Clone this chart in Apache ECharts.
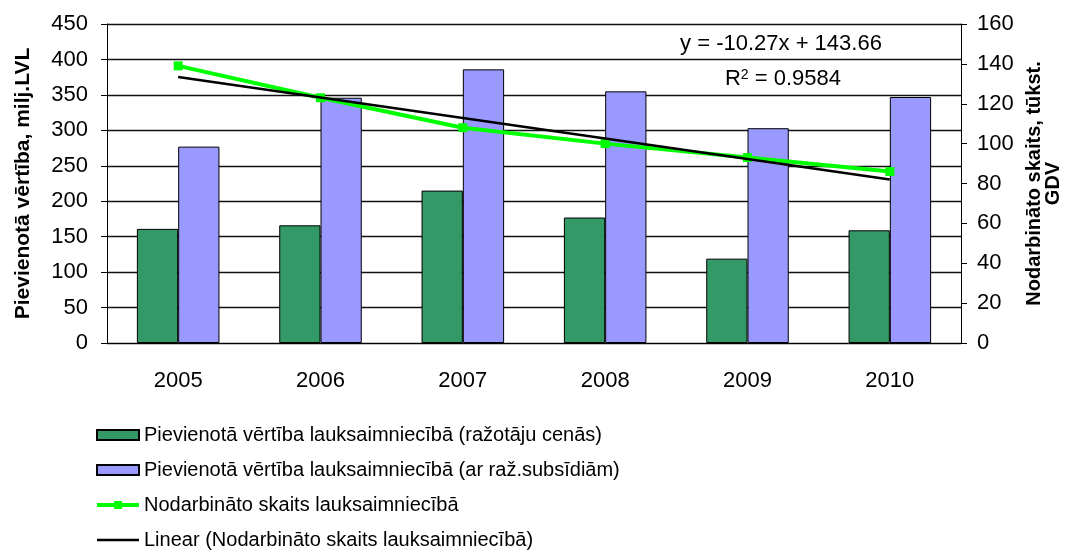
<!DOCTYPE html>
<html>
<head>
<meta charset="utf-8">
<script src="https://cdn.jsdelivr.net/npm/echarts@6/dist/echarts.min.js"></script>
<style>
  html, body { margin: 0; padding: 0; background: #fff; }
  #chart { width: 1075px; height: 552px; }
</style>
</head>
<body>
<div id="chart"></div>
<script>
// chart data
const years = ['2005', '2006', '2007', '2008', '2009', '2010'];
const valueProducerPrices = [161, 166, 215, 177, 119, 159];
const valueWithSubsidies = [277, 346, 386, 355, 303, 347];
const employed = [139, 123, 108, 100, 93, 86];
// trend line values read from y = -10.27x + 143.66
const employedTrend = [133.39, 123.12, 112.85, 102.58, 92.31, 82.04];

const seriesNames = [
  'Pievienotā vērtība lauksaimniecībā (ražotāju cenās)',
  'Pievienotā vērtība lauksaimniecībā (ar raž.subsīdiām)',
  'Nodarbināto skaits lauksaimniecībā',
  'Linear (Nodarbināto skaits lauksaimniecībā)'
];

const font = 'Liberation Sans, Arial, sans-serif';
const chart = echarts.init(document.getElementById('chart'));

const option = {
  animation: false,
  textStyle: { fontFamily: font },
  grid: { left: 107, right: 114, top: 24, bottom: 209 },
  legend: {
    orient: 'vertical',
    left: 95,
    top: 425,
    height: 127,
    padding: 0,
    itemWidth: 42,
    itemHeight: 10,
    itemGap: 15,
    textStyle: { fontFamily: font, fontSize: 20, color: '#000' },
    data: [
      { name: seriesNames[0], icon: 'rect' },
      { name: seriesNames[1], icon: 'rect' },
      { name: seriesNames[2], lineStyle: { width: 4 } },
      { name: seriesNames[3], itemStyle: { opacity: 0 }, lineStyle: { width: 2.5 } }
    ]
  },
  xAxis: {
    type: 'category',
    data: years,
    axisLine: { lineStyle: { color: '#000', width: 1 } },
    axisTick: { alignWithLabel: false, length: 6, lineStyle: { color: '#000' } },
    axisLabel: { color: '#000', fontSize: 22, margin: 27, fontFamily: font }
  },
  yAxis: [
    {
      type: 'value',
      min: 0, max: 450, interval: 50,
      name: 'Pievienotā vērtība, milj.LVL',
      nameLocation: 'middle',
      nameRotate: 90,
      nameGap: 73,
      nameTextStyle: { fontSize: 21, fontWeight: 'bold', color: '#000', fontFamily: font },
      axisLine: { show: true, lineStyle: { color: '#000' } },
      axisTick: { show: true, length: 6, lineStyle: { color: '#000' } },
      axisLabel: { color: '#000', fontSize: 22, margin: 19, fontFamily: font },
      splitLine: { lineStyle: { color: '#111', width: 1.3 } }
    },
    {
      type: 'value',
      min: 0, max: 160, interval: 20,
      name: 'Nodarbināto skaits, tūkst.\nGDV',
      nameLocation: 'middle',
      nameRotate: 90,
      nameGap: 62,
      nameTextStyle: { fontSize: 20, fontWeight: 'bold', color: '#000', fontFamily: font, lineHeight: 19 },
      axisLine: { show: true, lineStyle: { color: '#000' } },
      axisTick: { show: true, length: 6, lineStyle: { color: '#000' } },
      axisLabel: { color: '#000', fontSize: 22, margin: 16, fontFamily: font },
      splitLine: { show: false }
    }
  ],
  graphic: [
    {
      type: 'text', x: 781, y: 44,
      style: {
        text: 'y = -10.27x + 143.66', fontSize: 22, fontFamily: font, fill: '#000',
        textAlign: 'center', textVerticalAlign: 'middle'
      }
    },
    {
      type: 'text', x: 783, y: 79,
      style: {
        text: '{a|R}{s|2}{a| = 0.9584}',
        fontFamily: font,
        textAlign: 'center', textVerticalAlign: 'middle',
        rich: {
          a: { fontSize: 22, fill: '#000', fontFamily: font, verticalAlign: 'bottom' },
          s: { fontSize: 14, fill: '#000', fontFamily: font, verticalAlign: 'top' }
        }
      }
    }
  ],
  series: [
    {
      name: seriesNames[0],
      type: 'bar',
      data: valueProducerPrices,
      barGap: '0%',
      barCategoryGap: '42%',
      itemStyle: { color: '#339966', borderColor: '#000', borderWidth: 1 }
    },
    {
      name: seriesNames[1],
      type: 'bar',
      data: valueWithSubsidies,
      itemStyle: { color: '#9999ff', borderColor: '#000', borderWidth: 1 }
    },
    {
      name: seriesNames[2],
      type: 'line',
      yAxisIndex: 1,
      data: employed,
      symbol: 'rect',
      symbolSize: 9,
      lineStyle: { color: '#00ff00', width: 4 },
      itemStyle: { color: '#00ff00' },
      z: 3
    },
    {
      name: seriesNames[3],
      type: 'line',
      yAxisIndex: 1,
      data: employedTrend,
      symbol: 'none',
      lineStyle: { color: '#000', width: 2.5 },
      itemStyle: { color: '#000' },
      z: 4
    }
  ]
};

chart.setOption(option);
</script>
</body>
</html>
